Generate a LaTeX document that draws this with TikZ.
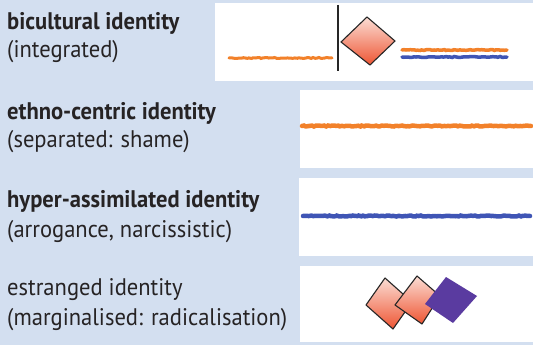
\documentclass[tikz,border=0pt]{standalone}
\usepackage{fontspec}
\setmainfont{PT Sans}[FakeStretch=0.94]
\usetikzlibrary{decorations.pathmorphing}

\definecolor{panelblue}{HTML}{D3DFF0}
\definecolor{inkgray}{HTML}{262324}
\definecolor{crayonorange}{HTML}{F2812A}
\definecolor{crayonblue}{HTML}{3F55B5}
\definecolor{deeppurple}{HTML}{5A3BA0}
\definecolor{rosetop}{HTML}{FBDDD4}
\definecolor{rosebottom}{HTML}{EE5533}

\tikzset{
  headtext/.style={anchor=base west,inner sep=0pt,text=inkgray,font=\fontsize{24}{28}\selectfont\bfseries},
  subtext/.style={anchor=base west,inner sep=0pt,text=inkgray,font=\fontsize{24}{28}\selectfont},
  sketchpanel/.style={fill=white,draw=none},
  crayon/.style={line width=#1,line cap=round,decorate,
    decoration={random steps,segment length=2pt,amplitude=0.5pt}},
  rosebox/.style={top color=rosetop,bottom color=rosebottom,draw=black!85,line width=1.1pt,line join=round}
}

\begin{document}
\begin{tikzpicture}[x=1pt,y=-1pt]
    \fill[panelblue] (0,0) rectangle (533,345);
    \useasboundingbox (0,0) rectangle (533,345);

    % left column
    \node[headtext] (biTitle) at (7,30) {bicultural identity};
    \node[subtext]  (biSub)   at (7,58) {(integrated)};
    \node[headtext] (ethTitle) at (7,119) {ethno-centric identity};
    \node[subtext]  (ethSub)   at (7,147) {(separated: shame)};
    \node[headtext] (hypTitle) at (7,207) {hyper-assimilated identity};
    \node[subtext]  (hypSub)   at (7,237) {(arrogance, narcissistic)};
    \node[subtext]  (estTitle) at (7,295) {estranged identity};
    \node[subtext]  (estSub)   at (7,325) {(marginalised: radicalisation)};

    % white panels
    \fill[sketchpanel] (215,3) rectangle (533,81);
    \fill[sketchpanel] (300,90) rectangle (533,168);
    \fill[sketchpanel] (299,178) rectangle (533,256);
    \fill[sketchpanel] (300,266) rectangle (533,342);

    % bicultural
    \coordinate (A) at (341,42);
    \coordinate (B) at (367,17);
    \coordinate (C) at (395,41);
    \coordinate (D) at (370,65);

    \draw[crayon=3pt,crayonorange] (229,58) -- (332,58);
    \draw[line width=1.3pt,black!85] (338,5) -- (338,71);
    \shade[rosebox] (A) -- (B) -- (C) -- (D) --cycle;
    \draw[crayon=3.5pt,crayonorange] (402,50) -- (507,50);
    \draw[crayon=3.5pt,crayonblue] (402,57) -- (507,57);

    % ethno-centric
    \draw[crayon=4.5pt,crayonorange] (302,126) -- (531,126);

    % hyper-assimilated
    \draw[crayon=4.5pt,crayonblue] (303,216) -- (530,216);

    % estranged
    \coordinate (E) at (366,305);
    \coordinate (F) at (385,278);
    \coordinate (G) at (412,302);
    \coordinate (H) at (393,329);
    \coordinate (I) at (395,305);
    \coordinate (J) at (417,276);
    \coordinate (K) at (440,296);
    \coordinate (L) at (422,324);
    \coordinate (M) at (425,304);
    \coordinate (N) at (446,277);
    \coordinate (O) at (477,296);
    \coordinate (P) at (453,323);

    \shade[rosebox] (E) -- (F) -- (G) -- (H) --cycle;
    \shade[rosebox] (I) -- (J) -- (K) -- (L) --cycle;
    \fill[deeppurple] (M) -- (N) -- (O) -- (P) --cycle;
\end{tikzpicture}
\end{document}
